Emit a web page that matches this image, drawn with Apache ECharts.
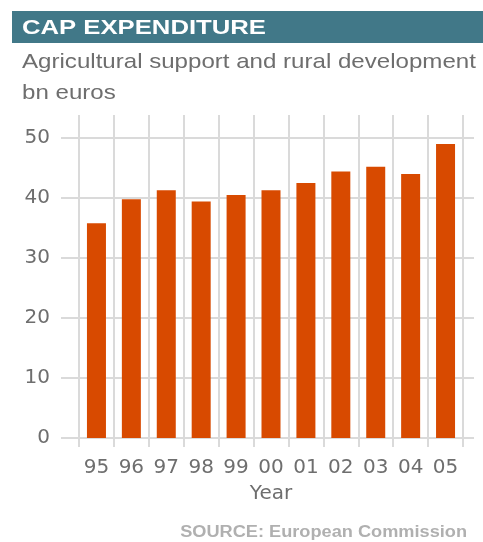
<!DOCTYPE html>
<html>
<head>
<meta charset="utf-8">
<script src="https://cdn.jsdelivr.net/npm/echarts@6/dist/echarts.min.js"></script>
<style>
html,body{margin:0;padding:0;background:#fff;}
#chart{width:483px;height:542px;}
</style>
</head>
<body>
<div id="chart"></div>
<script>
const years = ['95','96','97','98','99','00','01','02','03','04','05'];
const values = [35.8, 39.8, 41.3, 39.4, 40.5, 41.3, 42.5, 44.4, 45.2, 44.0, 49.0];
const yTicks = [0, 10, 20, 30, 40, 50];
const titleText = 'CAP EXPENDITURE';
const subtitleLines = ['Agricultural support and rural development', 'bn euros'];
const xAxisName = 'Year';
const sourceText = 'SOURCE: European Commission';

const FONT = '"Liberation Sans", Arial, Helvetica, sans-serif';
const AXFONT = '"DejaVu Sans", "Liberation Sans", sans-serif';
const GRID_COLOR = '#dadada';
const TEXT_COLOR = '#6e6e6e';

const chart = echarts.init(document.getElementById('chart'), null, {renderer: 'canvas'});
chart.setOption({
  animation: false,
  backgroundColor: '#fff',
  graphic: [
    {type: 'rect', left: 12, top: 11, shape: {width: 471, height: 32}, style: {fill: '#417888'}},
    {type: 'text', x: 22, y: 18, scaleX: 1.284,
     style: {text: titleText, fill: '#fff', font: 'bold 20px ' + FONT, verticalAlign: 'top'}},
    {type: 'text', x: 22, y: 51.5, scaleX: 1.147,
     style: {text: subtitleLines[0], fill: TEXT_COLOR, font: '21px ' + FONT, verticalAlign: 'top'}},
    {type: 'text', x: 22, y: 82.5, scaleX: 1.147,
     style: {text: subtitleLines[1], fill: TEXT_COLOR, font: '21px ' + FONT, verticalAlign: 'top'}},
    {type: 'text', x: 467, y: 525, scaleX: 1.136,
     style: {text: sourceText, fill: '#b0b0b0', font: 'bold 16px ' + FONT, align: 'right', verticalAlign: 'top'}}
  ],
  grid: [
    {left: 79, right: 20, top: 138, bottom: 104},
    {left: 61, right: 9, top: 138, bottom: 104},
    {left: 79, right: 20, top: 115, bottom: 95}
  ],
  xAxis: [
    {gridIndex: 0, type: 'category', data: years, boundaryGap: true,
     axisLine: {show: false}, axisTick: {show: false}, splitLine: {show: false},
     axisLabel: {color: TEXT_COLOR, fontSize: 20, fontFamily: AXFONT, margin: 20, interval: 0},
     name: xAxisName, nameLocation: 'middle', nameGap: 46,
     nameTextStyle: {color: TEXT_COLOR, fontSize: 20, fontFamily: AXFONT}},
    {gridIndex: 1, type: 'value', show: false},
    {gridIndex: 2, type: 'category', data: years, boundaryGap: true,
     axisLine: {show: false}, axisTick: {show: false}, axisLabel: {show: false},
     splitLine: {show: true, interval: 0, lineStyle: {color: GRID_COLOR, width: 2}}}
  ],
  yAxis: [
    {gridIndex: 0, type: 'value', min: yTicks[0], max: yTicks[yTicks.length - 1], interval: 10,
     axisLine: {show: false}, axisTick: {show: false}, splitLine: {show: false},
     axisLabel: {color: TEXT_COLOR, fontSize: 20, fontFamily: AXFONT, margin: 29}},
    {gridIndex: 1, type: 'value', min: yTicks[0], max: yTicks[yTicks.length - 1], interval: 10,
     axisLine: {show: false}, axisTick: {show: false}, axisLabel: {show: false},
     splitLine: {show: true, lineStyle: {color: GRID_COLOR, width: 2}}},
    {gridIndex: 2, type: 'value', show: false}
  ],
  series: [
    {type: 'bar', xAxisIndex: 0, yAxisIndex: 0, data: values, barWidth: 19,
     itemStyle: {color: '#d84a00'}, z: 5}
  ]
});
</script>
</body>
</html>
